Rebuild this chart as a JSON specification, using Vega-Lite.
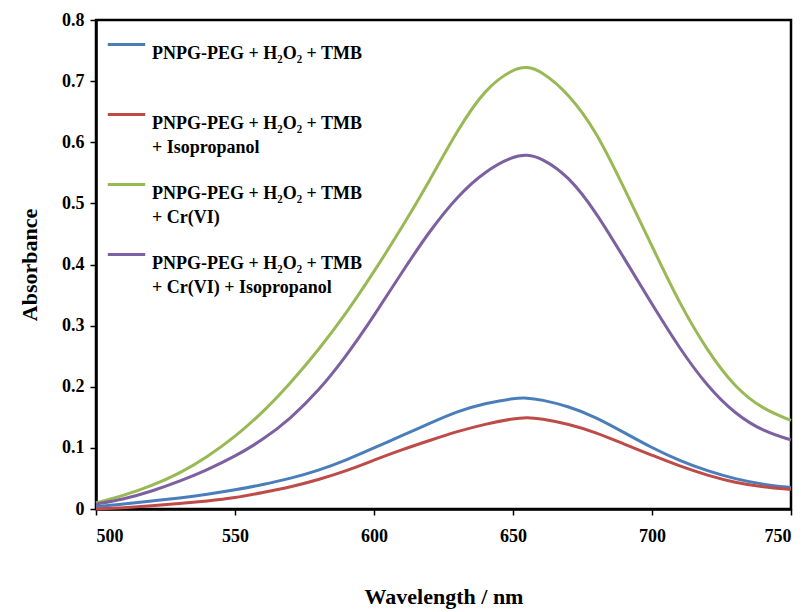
{
  "$schema": "https://vega.github.io/schema/vega-lite/v6.json",
  "width": 695,
  "height": 489,
  "autosize": {"type": "none"},
  "padding": {"left": 96, "top": 20, "right": 18, "bottom": 103},
  "background": "white",
  "config": {
    "view": {"stroke": "black", "strokeWidth": 2.5},
    "font": "Liberation Serif",
    "style": {"guide-label": {"lineHeight": 24}}
  },
  "datasets": {
    "spectra": [
      {"s": "A", "wl": 500, "abs": 0.004}, {"s": "A", "wl": 510, "abs": 0.008}, {"s": "A", "wl": 520, "abs": 0.013}, {"s": "A", "wl": 530, "abs": 0.018}, {"s": "A", "wl": 540, "abs": 0.024}, {"s": "A", "wl": 550, "abs": 0.031}, {"s": "A", "wl": 560, "abs": 0.040}, {"s": "A", "wl": 570, "abs": 0.050}, {"s": "A", "wl": 580, "abs": 0.063}, {"s": "A", "wl": 590, "abs": 0.080}, {"s": "A", "wl": 600, "abs": 0.100}, {"s": "A", "wl": 610, "abs": 0.120}, {"s": "A", "wl": 620, "abs": 0.140}, {"s": "A", "wl": 630, "abs": 0.160}, {"s": "A", "wl": 640, "abs": 0.173}, {"s": "A", "wl": 650, "abs": 0.181}, {"s": "A", "wl": 655, "abs": 0.182}, {"s": "A", "wl": 660, "abs": 0.179}, {"s": "A", "wl": 670, "abs": 0.168}, {"s": "A", "wl": 680, "abs": 0.150}, {"s": "A", "wl": 690, "abs": 0.125}, {"s": "A", "wl": 700, "abs": 0.100}, {"s": "A", "wl": 710, "abs": 0.079}, {"s": "A", "wl": 720, "abs": 0.062}, {"s": "A", "wl": 730, "abs": 0.049}, {"s": "A", "wl": 740, "abs": 0.040}, {"s": "A", "wl": 750, "abs": 0.035},
      {"s": "B", "wl": 500, "abs": 0.000}, {"s": "B", "wl": 510, "abs": 0.002}, {"s": "B", "wl": 520, "abs": 0.005}, {"s": "B", "wl": 530, "abs": 0.009}, {"s": "B", "wl": 540, "abs": 0.013}, {"s": "B", "wl": 550, "abs": 0.018}, {"s": "B", "wl": 560, "abs": 0.027}, {"s": "B", "wl": 570, "abs": 0.036}, {"s": "B", "wl": 580, "abs": 0.048}, {"s": "B", "wl": 590, "abs": 0.062}, {"s": "B", "wl": 600, "abs": 0.080}, {"s": "B", "wl": 610, "abs": 0.097}, {"s": "B", "wl": 620, "abs": 0.112}, {"s": "B", "wl": 630, "abs": 0.127}, {"s": "B", "wl": 640, "abs": 0.139}, {"s": "B", "wl": 650, "abs": 0.148}, {"s": "B", "wl": 655, "abs": 0.150}, {"s": "B", "wl": 660, "abs": 0.148}, {"s": "B", "wl": 670, "abs": 0.139}, {"s": "B", "wl": 680, "abs": 0.125}, {"s": "B", "wl": 690, "abs": 0.106}, {"s": "B", "wl": 700, "abs": 0.088}, {"s": "B", "wl": 710, "abs": 0.070}, {"s": "B", "wl": 720, "abs": 0.055}, {"s": "B", "wl": 730, "abs": 0.043}, {"s": "B", "wl": 740, "abs": 0.036}, {"s": "B", "wl": 750, "abs": 0.032},
      {"s": "C", "wl": 500, "abs": 0.010}, {"s": "C", "wl": 510, "abs": 0.022}, {"s": "C", "wl": 520, "abs": 0.038}, {"s": "C", "wl": 530, "abs": 0.058}, {"s": "C", "wl": 540, "abs": 0.085}, {"s": "C", "wl": 550, "abs": 0.118}, {"s": "C", "wl": 560, "abs": 0.158}, {"s": "C", "wl": 570, "abs": 0.206}, {"s": "C", "wl": 580, "abs": 0.260}, {"s": "C", "wl": 590, "abs": 0.320}, {"s": "C", "wl": 600, "abs": 0.388}, {"s": "C", "wl": 610, "abs": 0.460}, {"s": "C", "wl": 620, "abs": 0.537}, {"s": "C", "wl": 630, "abs": 0.620}, {"s": "C", "wl": 640, "abs": 0.688}, {"s": "C", "wl": 650, "abs": 0.720}, {"s": "C", "wl": 655, "abs": 0.724}, {"s": "C", "wl": 660, "abs": 0.717}, {"s": "C", "wl": 670, "abs": 0.680}, {"s": "C", "wl": 680, "abs": 0.618}, {"s": "C", "wl": 690, "abs": 0.525}, {"s": "C", "wl": 700, "abs": 0.430}, {"s": "C", "wl": 710, "abs": 0.335}, {"s": "C", "wl": 720, "abs": 0.258}, {"s": "C", "wl": 730, "abs": 0.198}, {"s": "C", "wl": 740, "abs": 0.163}, {"s": "C", "wl": 750, "abs": 0.145},
      {"s": "D", "wl": 500, "abs": 0.008}, {"s": "D", "wl": 510, "abs": 0.016}, {"s": "D", "wl": 520, "abs": 0.029}, {"s": "D", "wl": 530, "abs": 0.045}, {"s": "D", "wl": 540, "abs": 0.064}, {"s": "D", "wl": 550, "abs": 0.086}, {"s": "D", "wl": 560, "abs": 0.113}, {"s": "D", "wl": 570, "abs": 0.148}, {"s": "D", "wl": 580, "abs": 0.193}, {"s": "D", "wl": 590, "abs": 0.250}, {"s": "D", "wl": 600, "abs": 0.316}, {"s": "D", "wl": 610, "abs": 0.387}, {"s": "D", "wl": 620, "abs": 0.455}, {"s": "D", "wl": 630, "abs": 0.512}, {"s": "D", "wl": 640, "abs": 0.553}, {"s": "D", "wl": 650, "abs": 0.577}, {"s": "D", "wl": 655, "abs": 0.580}, {"s": "D", "wl": 660, "abs": 0.575}, {"s": "D", "wl": 670, "abs": 0.545}, {"s": "D", "wl": 680, "abs": 0.485}, {"s": "D", "wl": 690, "abs": 0.410}, {"s": "D", "wl": 700, "abs": 0.335}, {"s": "D", "wl": 710, "abs": 0.262}, {"s": "D", "wl": 720, "abs": 0.200}, {"s": "D", "wl": 730, "abs": 0.155}, {"s": "D", "wl": 740, "abs": 0.127}, {"s": "D", "wl": 750, "abs": 0.113}
    ]
  },
  "data": {"name": "spectra"},
  "mark": {"type": "line", "strokeWidth": 3, "interpolate": "basis"},
  "encoding": {
    "x": {
      "field": "wl", "type": "quantitative",
      "scale": {"domain": [500, 750], "nice": false, "zero": false},
      "axis": {
        "title": "Wavelength / nm", "values": [500, 550, 600, 650, 700, 750],
        "grid": false, "domain": true, "domainColor": "black", "domainWidth": 2.5,
        "tickColor": "black", "tickSize": 6, "tickWidth": 1.5,
        "labelFont": "Liberation Serif", "labelFontSize": 18, "labelFontWeight": "bold", "labelColor": "black", "labelPadding": 12,
        "titleFont": "Liberation Serif", "titleFontSize": 22, "titleFontWeight": "bold", "titleColor": "black", "titlePadding": 41
      }
    },
    "y": {
      "field": "abs", "type": "quantitative",
      "scale": {"domain": [0, 0.8], "nice": false},
      "axis": {
        "title": "Absorbance", "values": [0, 0.1, 0.2, 0.3, 0.4, 0.5, 0.6, 0.7, 0.8],
        "labelExpr": "datum.value == 0 ? '0' : format(datum.value, '.1f')",
        "grid": false, "domain": true, "domainColor": "black", "domainWidth": 2.5,
        "tickColor": "black", "tickSize": 6, "tickWidth": 1.5,
        "labelFont": "Liberation Serif", "labelFontSize": 18, "labelFontWeight": "bold", "labelColor": "black", "labelPadding": 6,
        "titleFont": "Liberation Serif", "titleFontSize": 22, "titleFontWeight": "bold", "titleColor": "black", "titlePadding": 20
      }
    },
    "color": {
      "field": "s", "type": "nominal",
      "scale": {"domain": ["A", "B", "C", "D"], "range": ["#4a7ebb", "#be4b48", "#98b954", "#7d60a0"]},
      "legend": {
        "title": null, "orient": "none", "legendX": 10, "legendY": 4,
        "symbolType": "stroke", "symbolStrokeWidth": 3, "symbolSize": 1400,
        "labelExpr": "datum.label == 'A' ? ['PNPG-PEG +  H₂O₂ +  TMB', ' '] : datum.label == 'B' ? ['PNPG-PEG + H₂O₂ + TMB', '+ Isopropanol'] : datum.label == 'C' ? ['PNPG-PEG + H₂O₂ + TMB', '+ Cr(VI)'] : ['PNPG-PEG + H₂O₂ + TMB', '+ Cr(VI) + Isopropanol']",
        "labelFont": "Liberation Serif", "labelFontSize": 18, "labelFontWeight": "bold", "labelColor": "black",
        "labelBaseline": "top", "labelOffset": 5, "labelLimit": 400,
        "rowPadding": 7
      }
    }
  }
}
